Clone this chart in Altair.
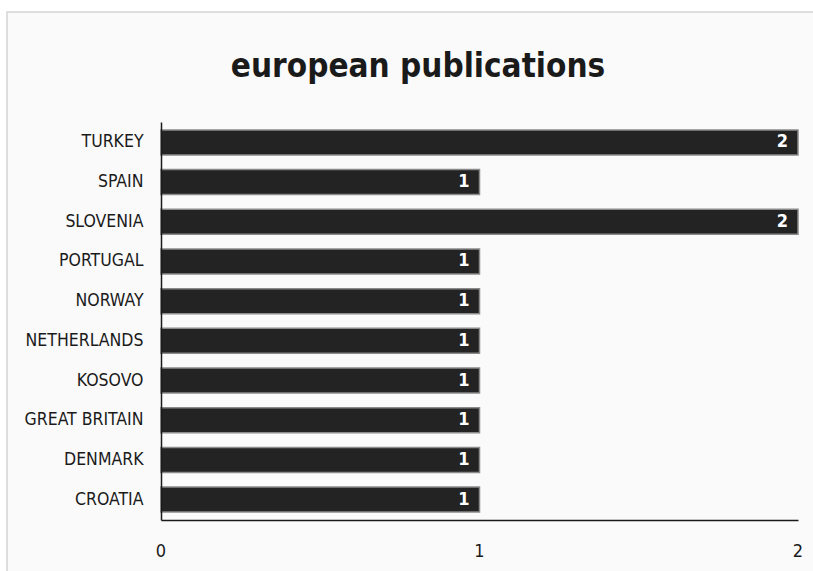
import altair as alt
import pandas as pd

countries = ["TURKEY", "SPAIN", "SLOVENIA", "PORTUGAL", "NORWAY", "NETHERLANDS",
             "KOSOVO", "GREAT BRITAIN", "DENMARK", "CROATIA"]
publications = [2, 1, 2, 1, 1, 1, 1, 1, 1, 1]
x_ticks = [0, 1, 2]
title_text = "european publications"

df = pd.DataFrame({"country": countries, "count": publications})
ticks_df = pd.DataFrame({"v": x_ticks, "lbl": [str(t) for t in x_ticks]})

FONT = "Liberation Sans Narrow, DejaVu Sans Condensed, Lato, sans-serif"

W, H = 637, 398

frame = alt.Chart(pd.DataFrame({"a": [0]})).mark_rect(
    fill="#fafafa", stroke="#d4d4d4", strokeWidth=1.5, clip=False
).encode(
    x=alt.value(-154), x2=alt.value(660), y=alt.value(-110), y2=alt.value(460)
)

title = alt.Chart(pd.DataFrame({"t": [title_text]})).mark_text(
    font=FONT, fontSize=33, fontWeight="bold", color="#1a1a1a",
    align="center", baseline="alphabetic", clip=False
).encode(x=alt.value(257), y=alt.value(-45), text="t:N")

y_enc = alt.Y("country:N", sort=countries, title=None,
              scale=alt.Scale(paddingInner=0.37, paddingOuter=0.2),
              axis=alt.Axis(labelFont=FONT, labelFontSize=17.5, labelColor="#1a1a1a",
                            labelPadding=18, ticks=False, domainColor="#1a1a1a",
                            domainWidth=1.5, zindex=1))
x_enc = alt.X("count:Q", title=None,
              scale=alt.Scale(domain=[0, 2], nice=False),
              axis=alt.Axis(values=x_ticks, labels=False, ticks=False,
                            grid=False, domainColor="#1a1a1a", domainWidth=1.5, zindex=1))

bars = alt.Chart(df).mark_bar(
    fill="#232323", stroke="#8a8a8a", strokeWidth=1.5
).encode(x=x_enc, y=y_enc)

labels = alt.Chart(df).mark_text(
    font=FONT, fontSize=18, fontWeight="bold", color="white", align="right", dx=-10,
    baseline="middle"
).encode(x=x_enc, y=y_enc, text="count:Q")

tick_labels = alt.Chart(ticks_df).mark_text(
    font=FONT, fontSize=18, color="#1a1a1a", align="center", baseline="alphabetic",
    clip=False
).encode(x=alt.X("v:Q"), y=alt.value(H + 37), text="lbl:N")

chart = alt.layer(frame, title, bars, labels, tick_labels).properties(
    width=W, height=H,
    autosize=alt.AutoSizeParams(type="none"),
    padding={"left": 161, "top": 122, "right": 15, "bottom": 51},
).configure_view(stroke=None).configure(background="white")

chart.save("out.html", embed_options={"renderer": "svg", "actions": False})
